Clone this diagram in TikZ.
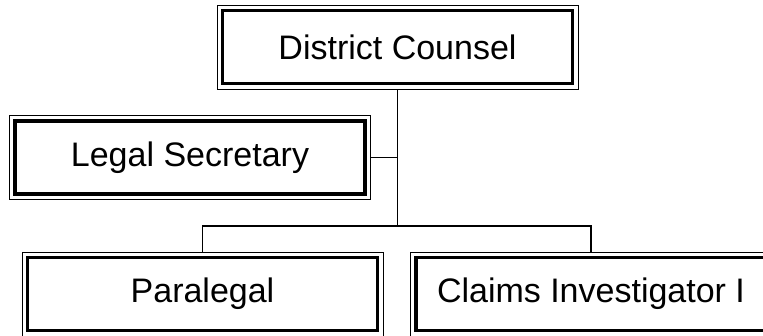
\documentclass[tikz,border=0pt]{standalone}
\usepackage{fontspec}
\setmainfont{Liberation Sans}
\usetikzlibrary{positioning, calc}

\tikzset{
  post/.style={draw, line width=1pt, fill=white, minimum width=361pt, minimum height=84pt, inner sep=0pt,
    font=\fontsize{34}{40}\selectfont,
    path picture={\draw[line width=3.8pt]
      ($(path picture bounding box.north west)+(5.5pt,-5.5pt)$) rectangle
      ($(path picture bounding box.south east)+(-5.5pt,5.5pt)$);}},
  link/.style={line width=1.5pt}
}

\begin{document}
\begin{tikzpicture}[x=1pt, y=-1pt]
  % Page
  \useasboundingbox (0,0) rectangle (763,335);
  \clip (0,0) rectangle (763,335);
  \fill[white] (0,0) rectangle (763,335);

  % Posts
  \node[post] (counsel) at (397.5, 47) {District Counsel};
  \node[post] (secretary) at (190, 157.5) {Legal Secretary};
  \node[post] (paralegal) at (202.5, 294) {Paralegal};
  \node[post] (investigator) at (591, 294) {Claims Investigator I};

  % Lines
  \coordinate (split) at (397.5, 226);
  \draw[link, line width=1.9pt] (counsel.south) -- (secretary.east -| counsel.south);
  \draw[link] (secretary.east -| counsel.south) -- (split);
  \draw[link] (secretary.east) -- (secretary.east -| counsel.south);
  \draw[link] (paralegal.north) |- (split) -| (investigator.north);
\end{tikzpicture}
\end{document}
